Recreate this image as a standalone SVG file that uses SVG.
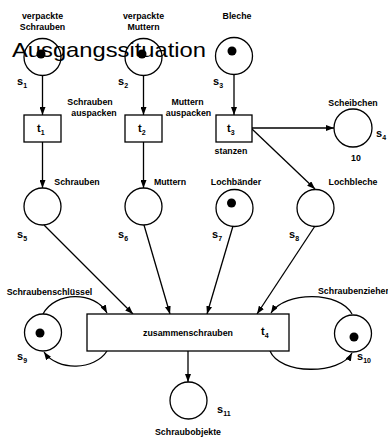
<svg xmlns="http://www.w3.org/2000/svg" width="388" height="437" viewBox="0 0 388 437">
  <style>
    .place { fill: #fff; stroke: #000; stroke-width: 1.3; }
    .token { fill: #000; }
    .trans { fill: #fff; stroke: #000; stroke-width: 1.3; }
    .arc { fill: none; stroke: #000; stroke-width: 1.3; marker-end: url(#arrow); }
    .lbl { font-family: "Liberation Sans", Arial, sans-serif; font-size: 8.8px; font-weight: bold; fill: #000; text-anchor: middle; }
    .id { font-family: "Liberation Sans", Arial, sans-serif; font-size: 11px; font-weight: bold; fill: #000; }
    .sub { font-size: 7px; }
    .title { font-family: "Liberation Sans", Arial, sans-serif; font-size: 21px; fill: #000; }
  </style>
  <defs>
    <marker id="arrow" markerUnits="userSpaceOnUse" markerWidth="8" markerHeight="6" refX="8" refY="3" orient="auto">
      <path d="M0,0 L8,3 L0,6 z" fill="#000"/>
    </marker>
  </defs>

  <rect width="388" height="437" fill="#fff"/>

  <!-- arcs of the net -->
  <g id="connectors">
    <path class="arc" d="M42.5,75 L42.5,115"/>
    <path class="arc" d="M143.5,75 L143.5,115"/>
    <path class="arc" d="M234,75 L234,115"/>
    <path class="arc" d="M42.5,142 L42.5,188"/>
    <path class="arc" d="M143.5,142 L143.5,188"/>
    <path class="arc" d="M252,128 L334,128"/>
    <path class="arc" d="M252,129 L315,189"/>
    <path class="arc" d="M44,225 L133,314"/>
    <path class="arc" d="M144,225 L170,314"/>
    <path class="arc" d="M233,226 L207,314"/>
    <path class="arc" d="M315,226 L257,314"/>
    <path class="arc" d="M188,351 L188,382"/>
    <!-- tool loops: wrench and screwdriver are taken and returned -->
    <path class="arc" d="M43,314 C55,291 95,291 107,313"/>
    <path class="arc" d="M107,351 C95,370 58,372 44,352"/>
    <path class="arc" d="M352,314 C340,291 285,291 271,313"/>
    <path class="arc" d="M270,351 C280,375 340,375 352,353"/>
  </g>

  <!-- places -->
  <g id="s1"><circle class="place" cx="42.5" cy="57" r="18.5"/><circle class="token" cx="41" cy="54" r="4.5"/>
    <text class="lbl" x="42.5" y="19">verpackte</text><text class="lbl" x="42.5" y="30">Schrauben</text>
    <text class="id" x="17" y="85">s<tspan class="sub" dy="3">1</tspan></text></g>
  <g id="s2"><circle class="place" cx="143.5" cy="57" r="18.5"/><circle class="token" cx="142" cy="54" r="4.5"/>
    <text class="lbl" x="143.5" y="19">verpackte</text><text class="lbl" x="143.5" y="30">Muttern</text>
    <text class="id" x="118" y="85">s<tspan class="sub" dy="3">2</tspan></text></g>
  <g id="s3"><circle class="place" cx="234" cy="56" r="18.5"/><circle class="token" cx="232" cy="51" r="4.5"/>
    <text class="lbl" x="237" y="18.5">Bleche</text>
    <text class="id" x="213" y="85">s<tspan class="sub" dy="3">3</tspan></text></g>
  <g id="s4"><circle class="place" cx="353" cy="128" r="19"/>
    <text class="lbl" x="353" y="106">Scheibchen</text><text class="lbl" x="356" y="161">10</text>
    <text class="id" x="376" y="137">s<tspan class="sub" dy="3">4</tspan></text></g>
  <g id="s5"><circle class="place" cx="42.5" cy="206.5" r="18.5"/>
    <text class="lbl" x="77" y="185">Schrauben</text>
    <text class="id" x="17" y="238">s<tspan class="sub" dy="3">5</tspan></text></g>
  <g id="s6"><circle class="place" cx="143.5" cy="206.5" r="18.5"/>
    <text class="lbl" x="170" y="185">Muttern</text>
    <text class="id" x="118" y="238">s<tspan class="sub" dy="3">6</tspan></text></g>
  <g id="s7"><circle class="place" cx="234.5" cy="208" r="18.5"/><circle class="token" cx="231.5" cy="203" r="4.5"/>
    <text class="lbl" x="236" y="185">Lochbänder</text>
    <text class="id" x="212" y="238">s<tspan class="sub" dy="3">7</tspan></text></g>
  <g id="s8"><circle class="place" cx="315.5" cy="208" r="18.5"/>
    <text class="lbl" x="353" y="185">Lochbleche</text>
    <text class="id" x="289" y="238">s<tspan class="sub" dy="3">8</tspan></text></g>
  <g id="s9"><circle class="place" cx="43" cy="332.5" r="18.5"/><circle class="token" cx="40" cy="333" r="4.5"/>
    <text class="lbl" x="49.5" y="295">Schraubenschlüssel</text>
    <text class="id" x="17" y="360">s<tspan class="sub" dy="3">9</tspan></text></g>
  <g id="s10"><circle class="place" cx="353" cy="333.5" r="18.5"/><circle class="token" cx="354" cy="337" r="4.5"/>
    <text class="lbl" x="318" y="294" text-anchor="start" style="text-anchor:start">Schraubenzieher</text>
    <text class="id" x="357" y="360">s<tspan class="sub" dy="3">10</tspan></text></g>
  <g id="s11"><circle class="place" cx="188.5" cy="400.5" r="18.5"/>
    <text class="lbl" x="188" y="435">Schraubobjekte</text>
    <text class="id" x="217" y="413">s<tspan class="sub" dy="3">11</tspan></text></g>

  <!-- transitions -->
  <g id="t1"><rect class="trans" x="24" y="115" width="37" height="27"/>
    <text class="id" x="37" y="132">t<tspan class="sub" dy="3">1</tspan></text>
    <text class="lbl" x="90" y="105">Schrauben</text><text class="lbl" x="94" y="116">auspacken</text></g>
  <g id="t2"><rect class="trans" x="125" y="115" width="37" height="27"/>
    <text class="id" x="138" y="132">t<tspan class="sub" dy="3">2</tspan></text>
    <text class="lbl" x="187.5" y="105">Muttern</text><text class="lbl" x="188.5" y="116">auspacken</text></g>
  <g id="t3"><rect class="trans" x="216" y="115" width="36" height="27"/>
    <text class="id" x="227" y="132">t<tspan class="sub" dy="3">3</tspan></text>
    <text class="lbl" x="231" y="154">stanzen</text></g>
  <g id="t4"><rect class="trans" x="87" y="314" width="202" height="37"/>
    <text class="lbl" x="188" y="336">zusammenschrauben</text>
    <text class="id" x="261" y="335">t<tspan class="sub" dy="3">4</tspan></text></g>

  <text class="title" x="12" y="57" textLength="194" lengthAdjust="spacingAndGlyphs">Ausgangssituation</text>
</svg>
